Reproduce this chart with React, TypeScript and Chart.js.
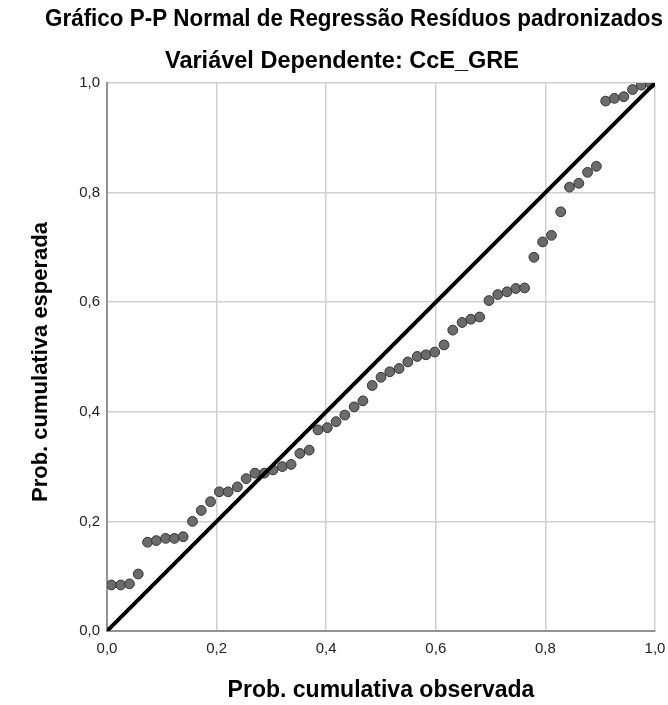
import { useEffect, useRef } from "react";
import { Chart, registerables } from "chart.js";

Chart.register(...registerables);

// Observed cumulative probability of each standardized residual (sorted)
const observedProb = [
  0.008, 0.025, 0.041, 0.057, 0.074, 0.09, 0.107, 0.123, 0.139, 0.156,
  0.172, 0.189, 0.205, 0.221, 0.238, 0.254, 0.27, 0.287, 0.303, 0.32,
  0.336, 0.352, 0.369, 0.385, 0.402, 0.418, 0.434, 0.451, 0.467, 0.484,
  0.5, 0.516, 0.533, 0.549, 0.566, 0.582, 0.598, 0.615, 0.631, 0.648,
  0.664, 0.68, 0.697, 0.713, 0.73, 0.746, 0.762, 0.779, 0.795, 0.811,
  0.828, 0.844, 0.861, 0.877, 0.893, 0.91, 0.926, 0.943, 0.959, 0.975,
  0.992,
];

// Expected cumulative probability under the normal distribution
const expectedProb = [
  0.084, 0.084, 0.086, 0.104, 0.162, 0.165, 0.169, 0.169, 0.172, 0.2,
  0.22, 0.236, 0.254, 0.254, 0.263, 0.278, 0.288, 0.288, 0.294, 0.3,
  0.304, 0.324, 0.33, 0.367, 0.371, 0.382, 0.394, 0.409, 0.42, 0.448,
  0.463, 0.473, 0.479, 0.491, 0.501, 0.504, 0.509, 0.522, 0.549, 0.563,
  0.569, 0.573, 0.603, 0.614, 0.619, 0.625, 0.626, 0.682, 0.71, 0.722,
  0.765, 0.81, 0.817, 0.837, 0.848, 0.967, 0.972, 0.975, 0.988, 0.996,
  0.999,
];

// Reference line of a perfectly normal distribution
const referenceX = [0, 1];
const referenceY = [0, 1];

const axisMin = 0;
const axisMax = 1;
const axisStep = 0.2;

const titleText = "Gráfico P-P Normal de Regressão Resíduos padronizados";
const subtitleText = "Variável Dependente: CcE_GRE";
const xTitleText = "Prob. cumulativa observada";
const yTitleText = "Prob. cumulativa esperada";

const FONT = '"Liberation Sans", Arial, Helvetica, sans-serif';

const formatTick = (v: number | string) =>
  Number(v).toFixed(1).replace(".", ",");

// Draws the heading lines and the vertical axis title
const textPlugin = {
  id: "headingText",
  afterDraw(chart: Chart) {
    const ctx = chart.ctx;
    const area = chart.chartArea;
    ctx.save();
    ctx.fillStyle = "#000";
    ctx.textAlign = "center";
    ctx.textBaseline = "middle";
    ctx.font = `bold 23px ${FONT}`;
    ctx.fillText(titleText, 354, 20, 618);
    ctx.font = `bold 23.5px ${FONT}`;
    ctx.fillText(subtitleText, 342, 62);

    ctx.translate(41, (area.top + area.bottom) / 2 + 5);
    ctx.rotate(-Math.PI / 2);
    ctx.font = `bold 22px ${FONT}`;
    ctx.fillText(yTitleText, 0, 0);
    ctx.restore();
  },
};

export default function App() {
  const canvasRef = useRef<HTMLCanvasElement | null>(null);

  useEffect(() => {
    if (!canvasRef.current) return;
    const chart = new Chart(canvasRef.current, {
      type: "scatter",
      data: {
        datasets: [
          {
            label: "Referência",
            data: referenceX.map((x, i) => ({ x, y: referenceY[i] })),
            showLine: true,
            borderColor: "#000",
            borderWidth: 4,
            pointRadius: 0,
            pointHoverRadius: 0,
          },
          {
            label: "Resíduos",
            data: observedProb.map((x, i) => ({ x, y: expectedProb[i] })),
            backgroundColor: "#6b6b6b",
            borderColor: "#333",
            borderWidth: 1,
            pointRadius: 4.9,
          },
        ],
      },
      options: {
        responsive: false,
        animation: false,
        devicePixelRatio: 1,
        layout: { padding: { top: 83, right: 13, left: 0, bottom: 0 } },
        plugins: {
          legend: { display: false },
          tooltip: { enabled: false },
          title: { display: false },
        },
        scales: {
          x: {
            type: "linear",
            min: axisMin,
            max: axisMax,
            afterFit: (s: any) => {
              s.height = 74;
              s.paddingLeft = 0;
              s.paddingRight = 0;
            },
            ticks: {
              stepSize: axisStep,
              padding: 9,
              color: "#222",
              font: { family: FONT, size: 15 },
              callback: formatTick,
            },
            grid: { color: "#cfcfcf", lineWidth: 1.5, drawTicks: false },
            border: { color: "#939393", width: 2 },
            title: {
              display: true,
              text: xTitleText,
              color: "#000",
              font: { family: FONT, size: 23, weight: "bold" },
              padding: { top: 0, bottom: 1 },
            },
          },
          y: {
            type: "linear",
            min: axisMin,
            max: axisMax,
            afterFit: (s: any) => {
              s.width = 107;
              s.paddingTop = 0;
              s.paddingBottom = 0;
            },
            ticks: {
              stepSize: axisStep,
              padding: 7,
              color: "#222",
              font: { family: FONT, size: 15 },
              callback: formatTick,
            },
            grid: { color: "#cfcfcf", lineWidth: 1.5, drawTicks: false },
            border: { color: "#939393", width: 2 },
          },
        },
      },
      plugins: [textPlugin],
    });
    return () => chart.destroy();
  }, []);

  return (
    <div
      style={{
        position: "absolute",
        left: 0,
        top: 0,
        width: 668,
        height: 705,
        background: "#fff",
      }}
    >
      <canvas ref={canvasRef} width={668} height={705} />
    </div>
  );
}
